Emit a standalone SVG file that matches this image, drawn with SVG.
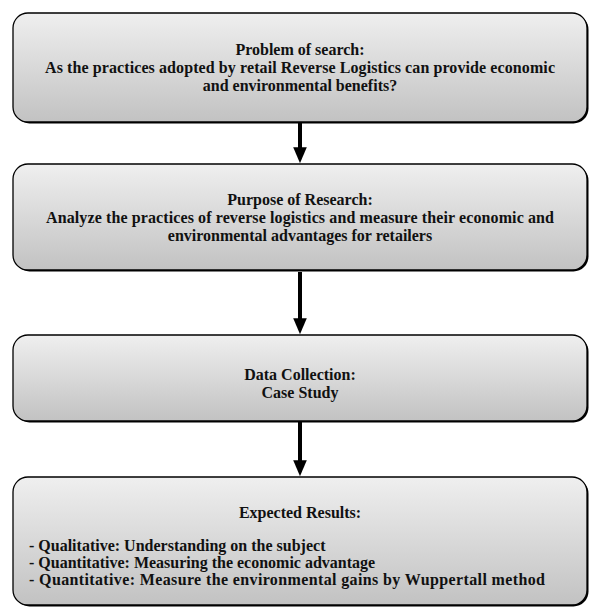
<svg xmlns="http://www.w3.org/2000/svg" width="589" height="608" viewBox="0 0 589 608">
<defs>
<linearGradient id="g" x1="0" y1="0" x2="0" y2="1">
<stop offset="0" stop-color="#efefef"/>
<stop offset="1" stop-color="#c2c2c2"/>
</linearGradient>
<marker id="ah" markerWidth="4" markerHeight="4" refX="2.2" refY="2" orient="auto" markerUnits="strokeWidth">
<path d="M0,0.3 L4,2 L0,3.7 Z" fill="#000"/>
</marker>
</defs>
<style>
.box{fill:url(#g);stroke:#000;stroke-width:1.3}
.sh{fill:#000}
text{font-family:"Liberation Serif","Times New Roman",serif;font-weight:bold;font-size:16px;fill:#111}
.c{text-anchor:middle}
.con{stroke:#000;stroke-width:4;fill:none}
</style>
<g id="n1">
<rect class="sh" x="14.5" y="14.5" width="574" height="109" rx="15"/>
<rect class="box" x="13" y="13" width="574" height="109" rx="15"/>
<text class="c" x="300" y="55">Problem of search:</text>
<text class="c" x="300" y="73" textLength="510" lengthAdjust="spacing">As the practices adopted by retail Reverse Logistics can provide economic</text>
<text class="c" x="300" y="91">and environmental benefits?</text>
</g>
<g id="n2">
<rect class="sh" x="14.5" y="165.5" width="574" height="106" rx="15"/>
<rect class="box" x="13" y="164" width="574" height="106" rx="15"/>
<text class="c" x="300" y="205">Purpose of Research:</text>
<text class="c" x="300" y="223" textLength="508" lengthAdjust="spacing">Analyze the practices of reverse logistics and measure their economic and</text>
<text class="c" x="300" y="241">environmental advantages for retailers</text>
</g>
<g id="n3">
<rect class="sh" x="14.5" y="336.5" width="574" height="86" rx="15"/>
<rect class="box" x="13" y="335" width="574" height="86" rx="15"/>
<text class="c" x="300" y="380">Data Collection:</text>
<text class="c" x="300" y="398">Case Study</text>
</g>
<g id="n4">
<rect class="sh" x="14.5" y="478.5" width="574" height="128" rx="15"/>
<rect class="box" x="13" y="477" width="574" height="128" rx="15"/>
<text class="c" x="300" y="518">Expected Results:</text>
<text x="29" y="551">- Qualitative: Understanding on the subject</text>
<text x="29" y="568">- Quantitative: Measuring the economic advantage</text>
<text x="29" y="585" textLength="516" lengthAdjust="spacing">- Quantitative: Measure the environmental gains by Wuppertall method</text>
</g>
<g id="connectors">
<line class="con" x1="300" y1="123" x2="300" y2="156" marker-end="url(#ah)"/>
<line class="con" x1="300" y1="272" x2="300" y2="327" marker-end="url(#ah)"/>
<line class="con" x1="300" y1="422" x2="300" y2="469" marker-end="url(#ah)"/>
</g>
</svg>
